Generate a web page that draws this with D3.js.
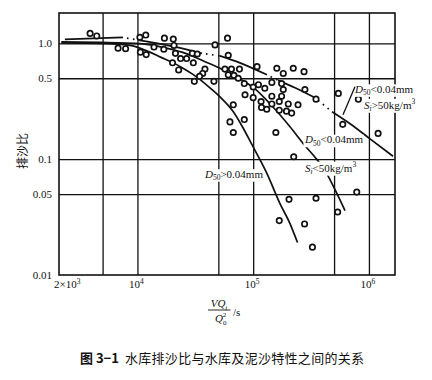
<!DOCTYPE html>
<html><head><meta charset="utf-8">
<script src="https://cdn.jsdelivr.net/npm/d3@7"></script>
<style>body{margin:0;background:#fff;} svg{display:block;}</style>
</head><body>
<svg id="c" width="432" height="380"></svg>
<script>
// ---- data ----
const yTickValues = [1.0, 0.5, 0.1, 0.05, 0.01];
const yTickLabels = ["1.0", "0.5", "0.1", "0.05", "0.01"];
const yGridValues = [1.0, 0.5, 0.1, 0.05];
const xGridValues = [5e3, 1e4, 5e4, 1e5, 5e5, 1e6];
const xTickValues = [2e3, 1e4, 1e5, 1e6];
const xTickBases = ["2×10", "10", "10", "10"];
const xTickExps = ["3", "4", "5", "6"];

const pointsX = [3900,4450,6800,7900,10500,11800,10600,11900,13900,17100,
  20400,16900,20700,21300,23600,26600,29800,32900,30400,20100,
  22700,38300,36600,34400,31000,45800,46800,60000,60900,57000,
  64900,76100,60900,68200,74300,83800,108000,100000,111000,126000,
  145000,160000,182000,222000,275000,176000,182000,176000,145000,168000,
  201000,244000,280000,85000,100000,117000,118000,131000,145000,168000,
  194000,215000,67300,63000,83800,67300,157000,349000,544000,810000,
  594000,1200000,224000,204000,349000,785000,537000,168000,278000,325000];
const pointsY = [1.22,1.16,0.91,0.90,1.13,1.18,0.84,0.80,0.93,1.11,
  1.09,0.89,0.96,0.82,0.74,0.74,0.82,0.81,0.68,0.68,
  0.59,0.60,0.55,0.52,0.47,0.47,0.97,1.11,0.79,0.60,
  0.60,0.60,0.535,0.53,0.50,0.45,0.63,0.42,0.44,0.41,
  0.46,0.61,0.55,0.61,0.57,0.45,0.40,0.35,0.35,0.315,
  0.30,0.295,0.40,0.36,0.34,0.315,0.28,0.27,0.30,0.265,
  0.26,0.25,0.295,0.21,0.22,0.17,0.17,0.33,0.37,0.33,
  0.20,0.167,0.105,0.045,0.046,0.052,0.035,0.0295,0.0276,0.0174];

// D50>0.04mm
const curveA = [[2200,1.01],[4742,1.0],[8613,0.961],[12320,0.853],[15650,0.765],[23290,0.633],
  [30180,0.540],[42330,0.4135],[51650,0.3457],[66900,0.2593],[81620,0.1869],[97630,0.1334],
  [114500,0.099],[131600,0.075],[170400,0.0413],[208000,0.0278],[241500,0.01906]];
// D50<0.04mm, Si<50kg/m3
const curveB = [[2200,1.03],[4742,1.02],[10500,0.995],[17290,0.915],[26780,0.812],[36820,0.707],
  [51650,0.609],[66900,0.535],[81620,0.475],[103700,0.405],[139700,0.301],[208000,0.1906],
  [280400,0.1307],[342100,0.1041],[417500,0.0796],[509300,0.0546],[621500,0.036]];
// D50<0.04mm, Si>50kg/m3 (dash-dot)
const curveC = [[2360,1.083],[7500,1.127],[10500,1.061],[15650,0.990],[23290,0.915],[36100,0.820],
  [51650,0.780],[76880,0.679],[131600,0.535],[163800,0.480],[229800,0.4135],[342100,0.339],
  [479900,0.2567],[686700,0.2023],[1022000,0.150],[1616000,0.106]];
const curveCStyle = ["s","d","s","s","s","d","s","s","d","s","s","d","s","s","s"];

const curveLabels = [
  {x: 758000, y: 0.374, d: "<0.04mm"},
  {x: 907600, y: 0.2725, s: ">50kg/m"},
  {x: 280400, y: 0.1374, d: "<0.04mm"},
  {x: 280400, y: 0.078, s: "<50kg/m"},
  {x: 38300, y: 0.0692, d: ">0.04mm"}
];
const leaderC = [[758000,0.4217],[597000,0.2418]];

// ---- chart ----
const svg = d3.select("#c");
const L = 59, R = 395, T = 13, B = 275;
const x = d3.scaleLog().domain([2100, 1.68e6]).range([L, R]);
const y = d3.scaleLog().domain([0.01, 1.83]).range([B, T]);
const serif = "'Liberation Serif','Times New Roman',serif";
const cjk = "'Noto Sans CJK SC','Noto Sans',sans-serif";

// gridlines via axes
const gx = svg.append("g").attr("transform", `translate(0,${B})`)
  .call(d3.axisBottom(x).tickValues(xGridValues).tickSize(-(B - T)).tickFormat(""));
const gy = svg.append("g").attr("transform", `translate(${L},0)`)
  .call(d3.axisLeft(y).tickValues(yTickValues).tickSize(-(R - L)).tickPadding(7)
    .tickFormat((d, i) => yTickLabels[i]));
[gx, gy].forEach(g => {
  g.select(".domain").remove();
  g.selectAll("line").attr("stroke", "#111").attr("stroke-width", 1.3);
});
gy.selectAll(".tick").filter(d => d === 0.01).select("line").remove();
gy.selectAll("text").attr("font-family", serif).attr("font-size", 11).attr("fill", "#111");

// frame
svg.append("rect").attr("x", L).attr("y", T).attr("width", R - L).attr("height", B - T)
  .attr("fill", "none").attr("stroke", "#111").attr("stroke-width", 1.6);

// x tick labels
xTickValues.forEach((v, i) => {
  const t = svg.append("text").attr("y", B + 13).attr("font-family", serif)
    .attr("font-size", 11).attr("fill", "#111")
    .attr("x", i === 0 ? x(v) - 2.5 : x(v) - 1)
    .attr("text-anchor", i === 0 ? "start" : "middle");
  t.append("tspan").text(xTickBases[i]);
  t.append("tspan").attr("font-size", 7.5).attr("dy", -4.5).text(xTickExps[i]);
});

// y axis title
svg.append("text").attr("transform", "translate(27,151) rotate(-90)")
  .attr("text-anchor", "middle").attr("font-family", cjk).attr("font-size", 12)
  .attr("fill", "#111").text("排沙比");

// x axis title (fraction)
const cx = 219;
const num = svg.append("text").attr("x", cx).attr("y", 307).attr("text-anchor", "middle")
  .attr("font-family", serif).attr("font-size", 11).attr("fill", "#111");
num.append("tspan").attr("font-style", "italic").text("VQ");
num.append("tspan").attr("font-style", "italic").attr("font-size", 7).attr("dy", 2.5).text("i");
svg.append("line").attr("x1", 208).attr("x2", 230.5).attr("y1", 310).attr("y2", 310)
  .attr("stroke", "#111").attr("stroke-width", 0.9);
const den = svg.append("text").attr("x", 215).attr("y", 322)
  .attr("font-family", serif).attr("font-size", 11).attr("fill", "#111");
den.append("tspan").attr("font-style", "italic").text("Q");
den.append("tspan").attr("font-size", 7).attr("dy", 2.5).text("0");
den.append("tspan").attr("font-size", 7).attr("dx", -3.6).attr("dy", -8).text("2");
svg.append("text").attr("x", 233).attr("y", 316).attr("font-family", serif)
  .attr("font-size", 11).attr("fill", "#111").text("/s");

// curves
const line = d3.line().x(d => x(d[0])).y(d => y(d[1])).curve(d3.curveMonotoneX);
const gc = svg.append("g").attr("fill", "none").attr("stroke", "#111").attr("stroke-width", 1.7);
gc.append("path").attr("d", line(curveA));
gc.append("path").attr("d", line(curveB));
// curve C split into solid pieces and dotted gaps
let piece = [curveC[0]];
curveCStyle.forEach((s, i) => {
  if (s === "s") { piece.push(curveC[i + 1]); }
  else {
    if (piece.length > 1) gc.append("path").attr("d", line(piece));
    gc.append("path").attr("d", d3.line().x(d => x(d[0])).y(d => y(d[1]))([curveC[i], curveC[i + 1]]))
      .attr("stroke-dasharray", "1.6,4.5").attr("stroke-dashoffset", -4);
    piece = [curveC[i + 1]];
  }
});
if (piece.length > 1) gc.append("path").attr("d", line(piece));

// points
svg.append("g").selectAll("circle").data(pointsX.map((v, i) => [v, pointsY[i]])).join("circle")
  .attr("cx", d => x(d[0])).attr("cy", d => y(d[1])).attr("r", 2.7)
  .attr("fill", "#fff").attr("stroke", "#111").attr("stroke-width", 1.7);

// curve labels with white background
const gl = svg.append("g");
curveLabels.forEach(lb => {
  const g = gl.append("g");
  const t = g.append("text").attr("x", x(lb.x)).attr("y", y(lb.y))
    .attr("font-family", serif).attr("font-size", 11).attr("fill", "#111");
  if (lb.d) {
    t.append("tspan").attr("font-style", "italic").text("D");
    t.append("tspan").attr("font-size", 7.5).attr("dy", 2.5).text("50");
    t.append("tspan").attr("dy", -2.5).text(lb.d);
  } else {
    t.append("tspan").attr("font-style", "italic").text("S");
    t.append("tspan").attr("font-style", "italic").attr("font-size", 7.5).attr("dy", 2.5).text("i");
    t.append("tspan").attr("dy", -2.5).text(lb.s);
    t.append("tspan").attr("font-size", 7.5).attr("dy", -4.5).text("3");
  }
  const bb = t.node().getBBox();
  g.insert("rect", "text").attr("x", bb.x - 0.5).attr("y", bb.y + 1.5)
    .attr("width", bb.width + 1).attr("height", bb.height - 2).attr("fill", "#fff");
});
svg.append("line").attr("x1", x(leaderC[0][0])).attr("y1", y(leaderC[0][1]))
  .attr("x2", x(leaderC[1][0])).attr("y2", y(leaderC[1][1]))
  .attr("stroke", "#111").attr("stroke-width", 1.3);

// caption
const cap = svg.append("text").attr("x", 80).attr("y", 363).attr("font-family", cjk)
  .attr("font-size", 13).attr("fill", "#111");
cap.append("tspan").attr("font-weight", "bold").text("图 3−1");
cap.append("tspan").attr("dx", 6).attr("letter-spacing", 0.3).text("水库排沙比与水库及泥沙特性之间的关系");
</script>
</body></html>
